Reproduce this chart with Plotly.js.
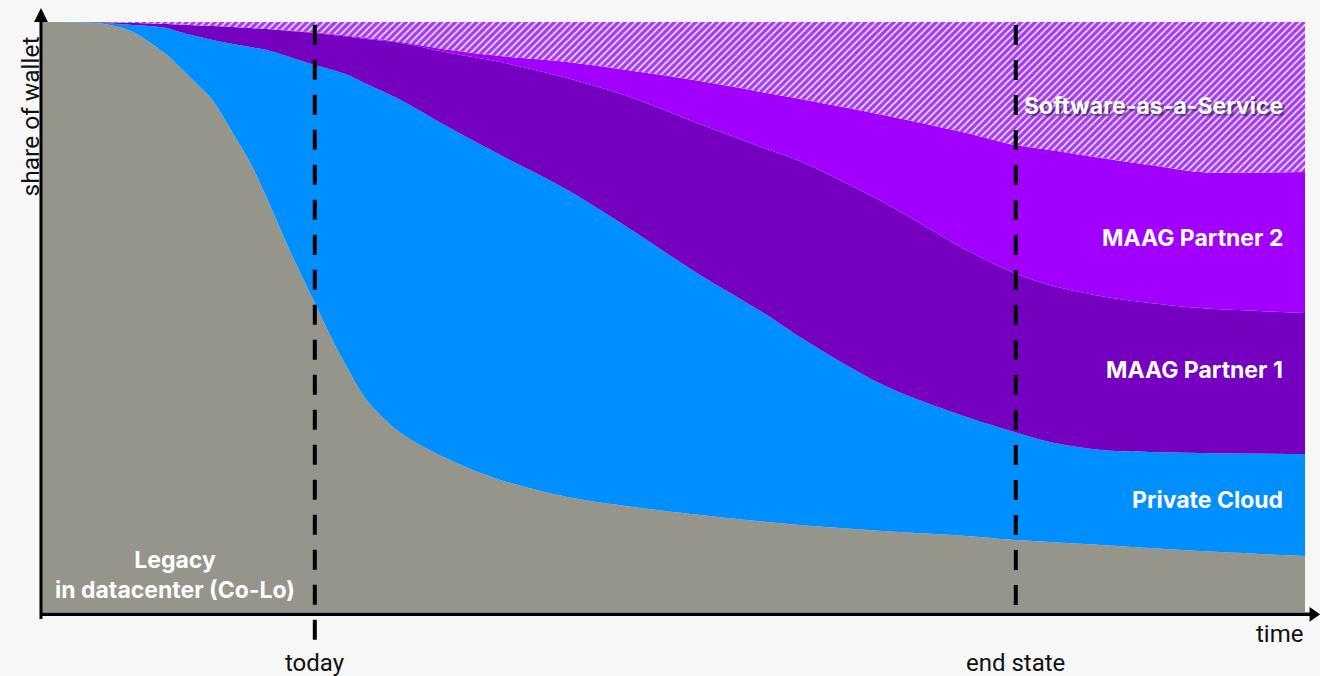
<!DOCTYPE html>
<html>
<head>
<meta charset="utf-8">
<script src="https://cdn.plot.ly/plotly-3.0.1.min.js"></script>
<style>
html,body{margin:0;padding:0;background:#f7f7f7;}
#chart{width:1320px;height:676px;}
</style>
</head>
<body>
<div id="chart"></div>
<script>
// time axis (0 = start, 100 = far right)
const time = [0, 3.6, 5.4, 7.2, 9.9, 10.9, 12.5, 13.5, 15.1, 16.5, 17.8, 19.6, 21.6, 23.0, 24.4, 25.7, 28.4, 32.3, 36.3, 41.6, 46.8, 52.1, 57.4, 60.0, 66.6, 73.2, 77.0, 79.8, 83.8, 87.7, 91.7, 100];

// share of wallet (%) per layer, bottom to top
const legacy = [100, 99.9, 99.5, 98.31, 94.41, 92.37, 88.98, 86.78, 81.19, 76.10, 70.17, 61.36, 52.37, 46.10, 40.51, 35.93, 30.34, 25.76, 22.37, 19.49, 17.80, 16.44, 15.25, 14.75, 13.73, 12.88, 12.20, 11.86, 11.36, 10.85, 10.34, 9.49];
const privateCloud = [0, 0.1, 0.25, 1.19, 4.58, 5.93, 8.47, 10.17, 15.08, 19.66, 25.08, 32.71, 40.34, 45.76, 50.34, 53.56, 56.44, 56.27, 55.08, 52.03, 46.78, 40.68, 35.08, 31.86, 24.75, 20.17, 18.31, 16.95, 16.10, 16.27, 16.61, 17.29];
const maagPartner1 = [0, 0, 0.17, 0.34, 0.68, 1.27, 1.95, 2.37, 2.88, 3.22, 3.56, 4.41, 5.42, 5.93, 6.61, 7.63, 9.66, 12.71, 15.76, 18.98, 22.54, 25.59, 28.14, 29.83, 31.02, 28.31, 26.95, 26.61, 26.10, 25.25, 24.58, 23.90];
const maagPartner2 = [0, 0, 0, 0, 0, 0, 0, 0, 0, 0, 0, 0.08, 0.08, 0.17, 0.17, 0.17, 0.17, 0.51, 1.02, 2.71, 4.58, 7.29, 9.49, 10.51, 14.75, 19.83, 21.69, 22.88, 23.39, 23.39, 23.05, 23.90];
const saas = [0, 0, 0.08, 0.17, 0.34, 0.42, 0.59, 0.68, 0.85, 1.02, 1.19, 1.44, 1.78, 2.03, 2.37, 2.71, 3.39, 4.75, 5.76, 6.78, 8.31, 10.0, 12.03, 13.05, 15.76, 18.81, 20.85, 21.69, 23.05, 24.24, 25.42, 25.42];

const seriesNames = ['Legacy<br>in datacenter (Co-Lo)', 'Private Cloud', 'MAAG Partner 1', 'MAAG Partner 2', 'Software-as-a-Service'];
const milestoneLabels = ['today', 'end state'];
const milestoneTimes = [21.6, 77.1];

const colors = ['#95958b', '#008fff', '#7500c0', '#a100ff', '#a43cf2'];
const layers = [legacy, privateCloud, maagPartner1, maagPartner2, saas];

const traces = layers.map((vals, i) => {
  const t = {
    x: time, y: vals, type: 'scatter', mode: 'lines',
    stackgroup: 'one', name: seriesNames[i],
    line: {width: 0, shape: 'spline', smoothing: 0.9},
    fillcolor: colors[i], hoverinfo: 'skip'
  };
  if (i === 4) {
    t.fillpattern = {shape: '/', bgcolor: '#a43cf2', fgcolor: '#f4e6ff', size: 5, solidity: 0.32};
  }
  return t;
});

const labelFont = {family: 'Inter, Roboto, sans-serif', size: 23, color: '#ffffff', weight: 700};
const plainFont = {family: 'Roboto, Inter, sans-serif', size: 24, color: '#111111'};

const annotations = [
  {x: 98.4, y: 85.8, text: seriesNames[4], xanchor: 'right', yanchor: 'middle',
   font: Object.assign({}, labelFont, {shadow: '2px 2px 2px rgba(0,0,0,0.55)'})},
  {x: 98.4, y: 63.4, text: seriesNames[3], xanchor: 'right', yanchor: 'middle', font: labelFont},
  {x: 98.4, y: 41.0, text: seriesNames[2], xanchor: 'right', yanchor: 'middle', font: labelFont},
  {x: 98.4, y: 19.0, text: seriesNames[1], xanchor: 'right', yanchor: 'middle', font: labelFont},
  {x: 10.5, y: 6.3, text: seriesNames[0], xanchor: 'center', yanchor: 'middle', align: 'center', font: labelFont},
  {x: 100, xref: 'x', y: -0.037, yref: 'paper', text: 'time', xanchor: 'right', yanchor: 'middle', font: plainFont},
  {x: -0.0095, xref: 'paper', y: 0.84, yref: 'paper', text: 'share of wallet', textangle: -90,
   xanchor: 'center', yanchor: 'middle', font: Object.assign({}, plainFont, {size: 24.5})}
];
milestoneLabels.forEach((lab, i) => {
  annotations.push({x: milestoneTimes[i], xref: 'x', y: -0.086, yref: 'paper', text: lab,
    xanchor: 'center', yanchor: 'middle', font: plainFont});
});
annotations.forEach(a => { a.showarrow = false; });

const shapes = [];
// dashed milestone lines
shapes.push({type: 'line', xref: 'x', yref: 'paper', x0: milestoneTimes[0], x1: milestoneTimes[0], y0: -0.047, y1: 1,
  line: {color: '#000000', width: 4, dash: '20px,15px'}});
shapes.push({type: 'line', xref: 'x', yref: 'paper', x0: milestoneTimes[1], x1: milestoneTimes[1], y0: 0.012, y1: 1,
  line: {color: '#000000', width: 4, dash: '20px,15px'}});
// axes
shapes.push({type: 'line', xref: 'paper', yref: 'paper', x0: -0.0008, x1: -0.0008, y0: -0.012, y1: 1.0,
  line: {color: '#000000', width: 3}});
shapes.push({type: 'line', xref: 'paper', yref: 'paper', x0: -0.0008, x1: 1.004, y0: -0.004, y1: -0.004,
  line: {color: '#000000', width: 3.5}});
// arrow heads
shapes.push({type: 'path', xref: 'paper', yref: 'paper',
  path: 'M -0.0063 1.0 L -0.0008 1.0237 L 0.0047 1.0 Z', fillcolor: '#000000', line: {width: 0}});
shapes.push({type: 'path', xref: 'paper', yref: 'paper',
  path: 'M 1.0036 0.0085 L 1.0119 -0.004 L 1.0036 -0.0165 Z', fillcolor: '#000000', line: {width: 0}});

const layout = {
  width: 1320, height: 676,
  margin: {l: 42, r: 15, t: 22, b: 64},
  paper_bgcolor: '#f7f7f7', plot_bgcolor: '#f7f7f7',
  showlegend: false,
  xaxis: {range: [0, 100], showgrid: false, zeroline: false, showticklabels: false, ticks: '', showline: false, fixedrange: true},
  yaxis: {range: [0, 100], showgrid: false, zeroline: false, showticklabels: false, ticks: '', showline: false, fixedrange: true},
  annotations: annotations,
  shapes: shapes
};

Plotly.newPlot('chart', traces, layout, {staticPlot: true, displayModeBar: false});
</script>
</body>
</html>
